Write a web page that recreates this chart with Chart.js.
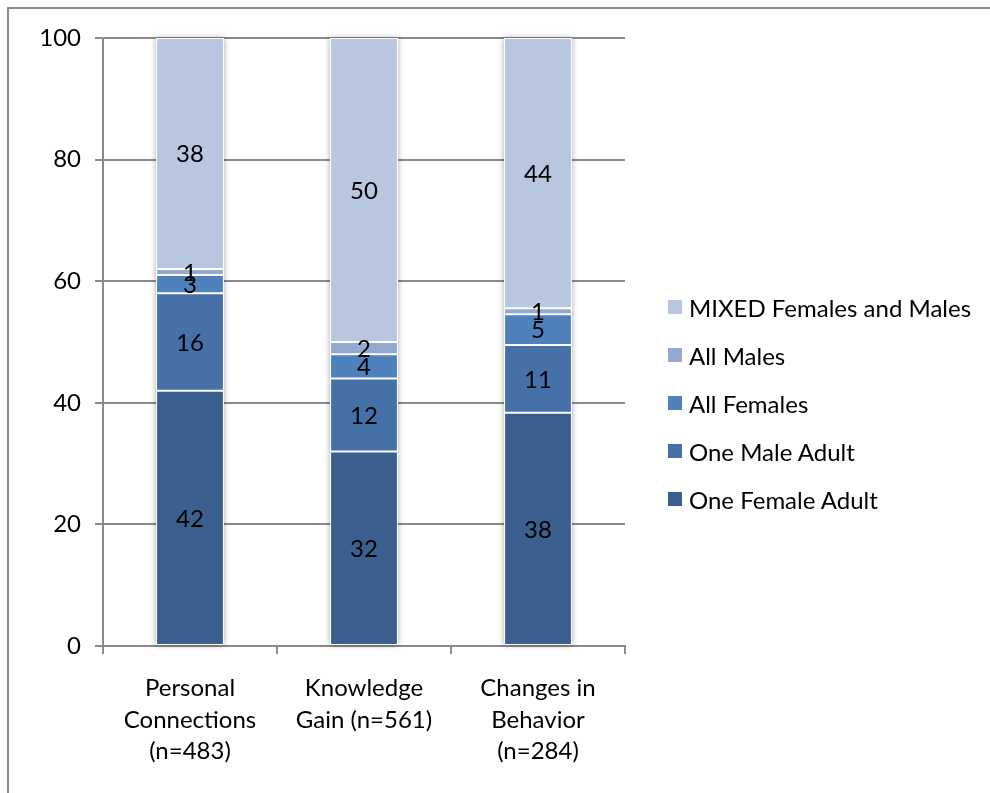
<!DOCTYPE html>
<html>
<head>
<meta charset="utf-8">
<script src="https://cdn.jsdelivr.net/npm/chart.js@4"></script>
<style>
  body { margin: 0; background: #fff; font-family: Lato, sans-serif; }
  #wrap { position: relative; width: 990px; height: 793px; overflow: hidden; }
  #frame { position: absolute; left: 7px; top: 7px; width: 1000px; height: 800px; border: 2px solid #8d8d8d; }
  #chart { position: absolute; left: 0; top: 0; }
  #legend { position: absolute; left: 668px; top: 283px; }
  .item { display: flex; align-items: center; height: 48px; font-size: 24px; color: #000; }
  .swatch { width: 14px; height: 14px; margin-right: 7px; }
</style>
</head>
<body>
<div id="wrap">
  <div id="frame"></div>
  <canvas id="chart" width="990" height="793"></canvas>
  <div id="legend"></div>
</div>
<script>
const categories = [
  ['Personal', 'Connections', '(n=483)'],
  ['Knowledge', 'Gain (n=561)'],
  ['Changes in', 'Behavior', '(n=284)']
];
const oneFemaleAdult = [42, 32, 38];
const oneMaleAdult = [16, 12, 11];
const allFemales = [3, 4, 5];
const allMales = [1, 2, 1];
const mixedFemalesMales = [38, 50, 44];
const yTicks = [0, 20, 40, 60, 80, 100];

const series = [
  { label: 'One Female Adult', values: oneFemaleAdult, color: '#3b5f8f' },
  { label: 'One Male Adult', values: oneMaleAdult, color: '#4571a8' },
  { label: 'All Females', values: allFemales, color: '#4f81bd' },
  { label: 'All Males', values: allMales, color: '#94a8d0' },
  { label: 'MIXED Females and Males', values: mixedFemalesMales, color: '#b9c6df' }
];

// 100% stacked: each column is scaled to its own total
const totals = categories.map((_, i) => series.reduce((s, d) => s + d.values[i], 0));

const FONT = { family: 'Lato, sans-serif', size: 24 };

// soft shadow behind each whole stacked column
const columnShadow = {
  id: 'columnShadow',
  beforeDatasetsDraw(chart) {
    const ctx = chart.ctx;
    const first = chart.getDatasetMeta(0).data;
    const last = chart.getDatasetMeta(series.length - 1).data;
    ctx.save();
    ctx.shadowColor = 'rgba(0,0,0,0.35)';
    ctx.shadowBlur = 6;
    ctx.fillStyle = '#fff';
    first.forEach((bar, i) => {
      const top = last[i].y;
      ctx.fillRect(bar.x - bar.width / 2, top, bar.width, bar.base - top);
    });
    ctx.restore();
  }
};

// value written in the middle of every segment
const segmentLabels = {
  id: 'segmentLabels',
  afterDatasetsDraw(chart) {
    const ctx = chart.ctx;
    ctx.save();
    ctx.font = FONT.size + 'px ' + FONT.family;
    ctx.fillStyle = '#000';
    ctx.textAlign = 'center';
    ctx.textBaseline = 'middle';
    chart.data.datasets.forEach((ds, di) => {
      chart.getDatasetMeta(di).data.forEach((bar, i) => {
        ctx.fillText(String(ds.rawValues[i]), bar.x, (bar.y + bar.base) / 2 + 1);
      });
    });
    ctx.restore();
  }
};

new Chart(document.getElementById('chart'), {
  type: 'bar',
  data: {
    labels: categories,
    datasets: series.map(s => ({
      label: s.label,
      rawValues: s.values,
      data: s.values.map((v, i) => v / totals[i] * 100),
      backgroundColor: s.color,
      borderColor: '#fff',
      borderWidth: 1,
      borderSkipped: false,
      categoryPercentage: 0.39,
      barPercentage: 1
    }))
  },
  options: {
    responsive: false,
    animation: false,
    layout: { padding: { top: 38, right: 365, left: 0, bottom: 0 } },
    plugins: { legend: { display: false }, tooltip: { enabled: false } },
    scales: {
      x: {
        stacked: true,
        grid: { offset: true, drawOnChartArea: false, tickLength: 8, color: '#8a8a8a', lineWidth: 2 },
        border: { color: '#8a8a8a', width: 2 },
        ticks: { color: '#000', font: { ...FONT, lineHeight: 1.3 }, maxRotation: 0, autoSkip: false, padding: 19 },
        afterFit(s) { s.height = 147; }
      },
      y: {
        stacked: true,
        min: 0,
        max: 100,
        afterBuildTicks(s) { s.ticks = yTicks.map(v => ({ value: v })); },
        grid: { color: '#8a8a8a', tickLength: 8, lineWidth: 2 },
        border: { color: '#8a8a8a', width: 2 },
        ticks: { color: '#000', font: FONT, padding: 14 },
        afterFit(s) { s.width = 103; }
      }
    }
  },
  plugins: [columnShadow, segmentLabels]
});

// legend, top entry is the top segment
const legend = document.getElementById('legend');
series.slice().reverse().forEach(s => {
  const item = document.createElement('div');
  item.className = 'item';
  item.innerHTML = '<span class="swatch" style="background:' + s.color + '"></span><span>' + s.label + '</span>';
  legend.appendChild(item);
});
</script>
</body>
</html>
